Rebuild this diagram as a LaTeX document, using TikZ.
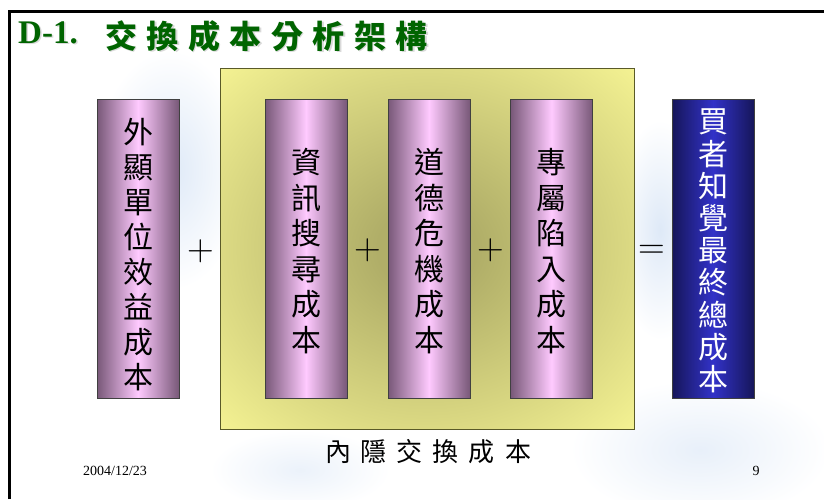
\documentclass[tikz,border=0pt]{standalone}
\usepackage{fontspec}
\setmainfont{Liberation Serif}
\newfontfamily\cjk{Noto Sans CJK TC}
\newfontfamily\lmr{Latin Modern Roman}
\definecolor{tgreen}{RGB}{0,100,0}
\definecolor{pdark}{RGB}{120,88,120}
\definecolor{plight}{RGB}{255,202,255}
\definecolor{bdark}{RGB}{22,22,90}
\definecolor{blight}{RGB}{50,50,200}
\definecolor{yc}{RGB}{176,174,104}
\definecolor{ye}{RGB}{250,248,150}
\definecolor{ybord}{RGB}{90,90,40}
\definecolor{deco}{RGB}{222,233,247}
\pgfdeclareradialshading{ybox}{\pgfpoint{0bp}{0bp}}{color(0bp)=(yc); color(6bp)=(yc); color(38bp)=(ye); color(50bp)=(ye)}
\newcommand\titlegap{\hspace{9.5pt}}
\newcommand\labgap{\hspace{10pt}}
\tikzset{
  colbox/.style={draw=black!75, line width=0.8pt, minimum width=82pt, minimum height=299pt, inner sep=0pt},
  pinkbox/.style={colbox, left color=pdark, right color=pdark, middle color=plight},
  bluebox/.style={colbox, left color=bdark, right color=bdark, middle color=blight},
  vtext/.style={align=center, inner sep=0pt, font=\cjk\fontsize{30}{35.5}\selectfont},
  optext/.style={inner sep=0pt, font=\lmr\fontsize{37}{37}\selectfont},
}
\begin{document}
\begin{tikzpicture}[x=1pt,y=-1pt]
\useasboundingbox (0,0) rectangle (824,499);
\fill[white] (0,0) rectangle (824,499);
% faint background decoration
\shade[inner color=deco, outer color=white] (170,170) ellipse (75 and 120);
\shade[inner color=deco, outer color=white] (660,230) ellipse (45 and 110);
\shade[inner color=deco!70, outer color=white] (700,450) ellipse (130 and 70);
\shade[inner color=deco!60, outer color=white] (300,470) ellipse (90 and 40);
% frame
\draw[line width=3pt] (9,499) -- (9,11) -- (824,11);
% title
\node[anchor=base west, inner sep=0pt, text=black!15, font=\bfseries\fontsize{33}{33}\selectfont] at (19.5,44.5) {D-1.};
\node[anchor=west, inner sep=0pt, text=black!15, font=\cjk\bfseries\fontsize{32}{32}\selectfont] at (106.5,37.5) {交\titlegap 換\titlegap 成\titlegap 本\titlegap 分\titlegap 析\titlegap 架\titlegap 構};
\node[anchor=base west, inner sep=0pt, text=tgreen, font=\bfseries\fontsize{33}{33}\selectfont] (tD) at (18,43) {D-1.};
\node[anchor=west, inner sep=0pt, text=tgreen, font=\cjk\bfseries\fontsize{32}{32}\selectfont] (tC) at (105,36) {交\titlegap 換\titlegap 成\titlegap 本\titlegap 分\titlegap 析\titlegap 架\titlegap 構};
% inner yellow box
\node[draw=ybord, line width=0.8pt, shade, shading=ybox, minimum width=414pt, minimum height=361pt, inner sep=0pt] (inner) at (427,248.5) {};
% column boxes
\node[pinkbox] (b1) at (138,248.5) {};
\node[pinkbox] (b2) at (306,248.5) {};
\node[pinkbox] (b3) at (429,248.5) {};
\node[pinkbox] (b4) at (551.5,248.5) {};
\node[bluebox] (b5) at (713,248.5) {};
% column texts
\node[vtext, font=\cjk\fontsize{30}{35}\selectfont] (t1) at (138,254.5) {外\\顯\\單\\位\\效\\益\\成\\本};
\node[vtext] (t2) at (306,251) {資\\訊\\搜\\尋\\成\\本};
\node[vtext] (t3) at (429,251) {道\\德\\危\\機\\成\\本};
\node[vtext] (t4) at (551.5,251) {專\\屬\\陷\\入\\成\\本};
\node[vtext, text=white, font=\cjk\fontsize{30}{32.2}\selectfont] (t5) at (713,251) {買\\者\\知\\覺\\最\\終\\總\\成\\本};
% operators
\node[optext] (p1) at (200.5,251) {+};
\node[optext] (p2) at (368,250) {+};
\node[optext] (p3) at (491,250) {+};
\node[optext] (eq) at (652,252) {=};
% label
\node[inner sep=0pt, font=\cjk\fontsize{26}{26}\selectfont] (lab) at (428,452) {內\labgap 隱\labgap 交\labgap 換\labgap 成\labgap 本};
% footer
\node[inner sep=0pt, font=\fontsize{14}{14}\selectfont] (date) at (115,471) {2004/12/23};
\node[inner sep=0pt, font=\fontsize{14}{14}\selectfont] (page) at (756,471) {9};
\end{tikzpicture}
\end{document}
